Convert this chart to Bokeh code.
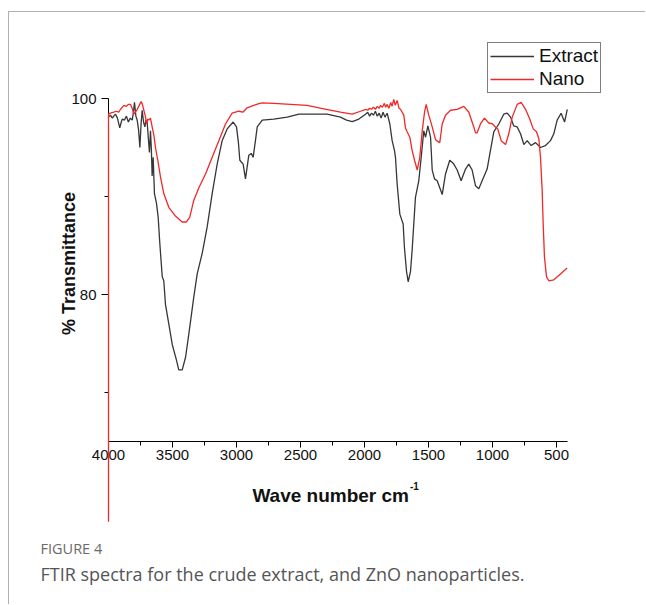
import math
from bokeh.plotting import figure
from bokeh.models import Range1d, FixedTicker, Label, Legend, LegendItem, LinearAxis
from bokeh.embed import file_html
from bokeh.resources import INLINE

# FTIR spectrum of the crude extract (wavenumber cm^-1, % transmittance)
extract_wn = [4000, 3985, 3970, 3959, 3945, 3930, 3912, 3900, 3893, 3875, 3860, 3845, 3830, 3815,
              3805, 3797, 3786, 3776, 3765, 3755, 3745, 3737, 3726, 3716, 3707, 3698, 3689, 3680,
              3672, 3665, 3659, 3651, 3641, 3625, 3612, 3599, 3580, 3568, 3555, 3529, 3502, 3469,
              3451, 3424, 3398, 3372, 3334, 3307, 3268, 3229, 3190, 3151, 3112, 3073, 3026, 3000,
              2985, 2974, 2948, 2930, 2904, 2885, 2870, 2852, 2838, 2799, 2709, 2604, 2513, 2422,
              2292, 2188, 2140, 2096, 2044, 1992, 1975, 1960, 1945, 1930, 1915, 1900, 1885, 1870,
              1855, 1840, 1823, 1802, 1784, 1766, 1758, 1745, 1724, 1698, 1688, 1672, 1659, 1641,
              1628, 1602, 1576, 1557, 1537, 1523, 1505, 1484, 1471, 1453, 1432, 1412, 1393, 1367,
              1334, 1307, 1276, 1245, 1211, 1185, 1159, 1133, 1107, 1081, 1042, 1016, 990, 951,
              912, 885, 859, 834, 807, 781, 755, 729, 698, 664, 625, 586, 547, 521, 495, 464,
              437, 416]
extract_t = [98.1, 98.3, 98.0, 98.2, 98.4, 98.0, 97.0, 97.6, 97.9, 97.8, 98.2, 97.6, 98.0, 97.8,
             98.6, 99.6, 98.2, 97.8, 96.8, 95.0, 97.5, 98.8, 97.6, 97.1, 97.8, 97.6, 96.0, 94.5,
             96.7, 94.8, 92.1, 94.0, 90.3, 89.3, 87.9, 85.2, 81.8, 81.4, 79.0, 77.0, 74.9, 73.3,
             72.3, 72.3, 73.6, 76.0, 79.7, 82.1, 84.2, 86.9, 90.3, 93.3, 95.7, 96.9, 97.6, 97.1,
             95.5, 93.7, 93.3, 91.8, 94.2, 94.4, 94.0, 95.7, 97.1, 97.8, 97.9, 98.1, 98.4, 98.4,
             98.4, 98.1, 97.8, 97.65, 97.9, 98.4, 98.6, 98.2, 98.5, 98.3, 98.7, 98.2, 98.5, 98.0,
             98.6, 98.1, 98.5, 97.4, 95.7, 94.7, 94.0, 91.3, 88.2, 87.2, 84.8, 82.4, 81.3, 82.3,
             84.5, 89.9, 91.6, 94.0, 96.7, 96.05, 97.2, 96.05, 92.7, 91.8, 91.6, 90.9, 90.2, 92.3,
             93.7, 93.4, 92.7, 91.6, 92.8, 93.3, 92.7, 91.1, 90.8, 91.6, 92.8, 94.7, 96.6, 97.4,
             98.4, 98.5, 98.1, 97.2, 97.1, 96.4, 95.3, 95.7, 95.2, 95.5, 95.0, 95.2, 95.7, 96.4,
             97.8, 98.5, 97.6, 98.9]

# FTIR spectrum of the ZnO nanoparticles
nano_wn = [4000, 4000, 3985, 3959, 3940, 3920, 3906, 3893, 3880, 3860, 3845, 3828, 3815, 3802,
           3790, 3775, 3760, 3745, 3735, 3724, 3712, 3703, 3694, 3685, 3672, 3659, 3645, 3633,
           3615, 3594, 3568, 3529, 3477, 3424, 3391, 3365, 3334, 3294, 3242, 3190, 3138, 3086,
           3034, 2982, 2950, 2917, 2865, 2818, 2799, 2709, 2578, 2448, 2318, 2188, 2096, 2031,
           1990, 1975, 1960, 1945, 1930, 1915, 1900, 1885, 1875, 1860, 1845, 1835, 1823, 1810,
           1795, 1785, 1771, 1760, 1745, 1730, 1719, 1693, 1680, 1667, 1646, 1628, 1609, 1588,
           1568, 1549, 1531, 1518, 1498, 1471, 1445, 1425, 1412, 1393, 1367, 1328, 1276, 1224,
           1185, 1146, 1133, 1120, 1094, 1063, 1029, 1000, 977, 959, 932, 898, 873, 846, 807,
           776, 742, 709, 682, 656, 638, 625, 612, 604, 594, 578, 560, 521, 469, 417]
nano_t = [56.8, 98.4, 98.5, 98.6, 98.7, 98.6, 98.9, 99.1, 99.3, 99.2, 99.4, 99.4, 99.0, 98.4,
          98.6, 98.9, 99.3, 99.7, 99.4, 98.8, 98.2, 97.4, 97.9, 97.8, 98.0, 97.1, 96.2, 95.0,
          93.7, 92.0, 90.3, 88.9, 88.0, 87.4, 87.4, 87.9, 89.6, 90.9, 92.3, 94.0, 95.7, 97.4,
          98.5, 98.7, 98.6, 99.05, 99.3, 99.5, 99.55, 99.5, 99.4, 99.3, 98.95, 98.6, 98.4, 98.7,
          98.9, 98.8, 99.0, 98.9, 99.1, 98.9, 99.2, 99.0, 99.3, 99.1, 99.5, 99.1, 99.4, 99.0,
          99.6, 99.2, 99.9, 99.3, 99.8, 99.0, 98.9, 98.3, 97.0, 96.6, 96.05, 94.7, 93.7, 92.7,
          94.0, 96.7, 98.6, 99.4, 98.3, 97.1, 95.8, 95.6, 95.5, 97.4, 98.3, 98.8, 98.9, 99.2,
          98.6, 97.1, 96.5, 96.5, 97.4, 98.0, 97.5, 97.4, 97.1, 96.9, 95.7, 95.3, 96.4, 98.1, 99.4,
          99.6, 98.9, 97.9, 96.9, 96.6, 95.9, 94.0, 90.6, 87.2, 83.8, 81.8, 81.4, 81.5, 82.1, 82.7]

x_major = [4000, 3500, 3000, 2500, 2000, 1500, 1000, 500]
x_minor = [3750, 3250, 2750, 2250, 1750, 1250, 750]
y_major = [80, 100]
y_minor = [70, 90]

TICK_FONT = "Liberation Sans"
TEXT_COLOR = "#111111"

# the frame fills the whole canvas; both axes sit at fixed data positions inside it
p = figure(width=637, height=593, output_backend="svg", toolbar_location=None,
           x_range=Range1d(4773.4, -203.1), y_range=Range1d(48.265, 108.776),
           x_axis_location=None, y_axis_location=None,
           min_border_left=0, min_border_right=0, min_border_top=0, min_border_bottom=0,
           background_fill_color="white", border_fill_color="white")
p.margin = (11, 0, 0, 8)
p.styles = {"border-top": "1px solid #b0b0b0", "border-left": "1px solid #b0b0b0"}
p.outline_line_color = None
p.grid.visible = False

r_ext = p.line(extract_wn, extract_t, line_color="#363636", line_width=1.3)
r_nano = p.line(nano_wn, nano_t, line_color="#f02828", line_width=1.3, level="overlay")


def style_axis(ax, tick_out, minor_out, standoff):
    ax.axis_line_color = "black"
    ax.major_tick_out = tick_out
    ax.major_tick_in = 0
    ax.minor_tick_out = minor_out
    ax.minor_tick_in = 0
    ax.major_tick_line_color = "black"
    ax.minor_tick_line_color = "black"
    ax.major_label_text_font = TICK_FONT
    ax.major_label_text_font_size = "15px"
    ax.major_label_text_color = TEXT_COLOR
    ax.major_label_standoff = standoff


ya = LinearAxis(fixed_location=4000, ticker=FixedTicker(ticks=y_major, minor_ticks=y_minor))
ya.bounds = (65, 100)
style_axis(ya, 7, 4, 5)
p.add_layout(ya, "left")

xa = LinearAxis(fixed_location=65, ticker=FixedTicker(ticks=x_major, minor_ticks=x_minor))
xa.bounds = (414, 4000)
style_axis(xa, 6, 4, 3)
p.add_layout(xa, "below")

# axis titles
p.add_layout(Label(x=59, y=342, x_units="screen", y_units="screen", angle=math.pi / 2,
                   text="% Transmittance", text_align="center", text_baseline="alphabetic",
                   text_font=TICK_FONT, text_font_style="bold", text_font_size="18px",
                   text_color=TEXT_COLOR))
p.add_layout(Label(x=399.5, y=110, x_units="screen", y_units="screen",
                   text="Wave number cm", text_align="right", text_baseline="alphabetic",
                   text_font=TICK_FONT, text_font_style="bold", text_font_size="19px",
                   text_color=TEXT_COLOR))
p.add_layout(Label(x=400.5, y=120, x_units="screen", y_units="screen",
                   text="-1", text_align="left", text_baseline="alphabetic",
                   text_font=TICK_FONT, text_font_style="bold", text_font_size="10px",
                   text_color=TEXT_COLOR))

# caption
p.add_layout(Label(x=31, y=57, x_units="screen", y_units="screen",
                   text="FIGURE 4", text_align="left", text_baseline="middle",
                   text_font="Open Sans", text_font_size="14.5px", text_color="#6a6a6a"))
p.add_layout(Label(x=31, y=32, x_units="screen", y_units="screen",
                   text="FTIR spectra for the crude extract, and ZnO nanoparticles.",
                   text_align="left", text_baseline="middle",
                   text_font="Open Sans", text_font_size="18px", text_color="#555555"))

legend = Legend(items=[LegendItem(label="Extract", renderers=[r_ext]),
                       LegendItem(label="Nano", renderers=[r_nano])],
                location=(478, 512), margin=0, padding=2, spacing=1,
                glyph_width=44, glyph_height=22, label_height=22, label_standoff=5,
                label_text_font=TICK_FONT, label_text_font_size="19px",
                label_text_color=TEXT_COLOR,
                border_line_color="black", border_line_width=1,
                background_fill_alpha=1.0)
p.add_layout(legend)

open("out.html", "w").write(file_html(p, INLINE))
